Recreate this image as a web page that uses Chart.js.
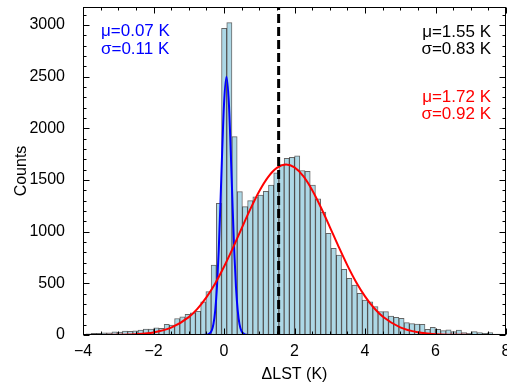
<!DOCTYPE html>
<html>
<head>
<meta charset="utf-8">
<script src="https://cdn.jsdelivr.net/npm/chart.js@4.4.1/dist/chart.umd.min.js"></script>
<style>
  html, body { margin: 0; padding: 0; background: #fff; }
  #wrap { width: 507px; height: 385px; }
</style>
</head>
<body>
<div id="wrap"><canvas id="grafico" width="507" height="385"></canvas></div>
<script>
// Histograma de ΔLST (conteos por intervalo)
const binStart = -3.918;
const binWidth = 0.148;
const counts = [
  12, 15, 15, 20, 22, 30, 28, 38, 35, 40,
  48, 58, 58, 70, 65, 103, 95, 160, 177, 200,
  215, 230, 320, 420, 677, 1274, 2968, 3023, 1919, 1387,
  1242, 1300, 1338, 1355, 1390, 1450, 1570, 1650, 1710, 1719,
  1735, 1592, 1583, 1450, 1318, 1190, 984, 839, 774, 636,
  548, 484, 403, 339, 322, 274, 226, 226, 184, 171,
  161, 119, 110, 105, 103, 55, 74, 55, 42, 51,
  32, 48, 23, 16, 32, 23, 16, 23, 10, 10
];

// Curvas ajustadas
const blueX = [-4, -0.6, -0.45, -0.35, -0.3, -0.25, -0.2, -0.15, -0.1, -0.05, 0, 0.07, 0.14, 0.19, 0.24, 0.29, 0.34, 0.39, 0.44, 0.49, 0.59, 0.7, 8];
const blueY = [0, 0, 5, 42, 105, 234, 463, 816, 1282, 1792, 2232, 2500, 2232, 1792, 1282, 816, 463, 234, 105, 42, 5, 0, 0];

const redX = [-4, -3, -2.5, -2, -1.5, -1, -0.75, -0.5, -0.25, 0, 0.25, 0.5, 0.75, 1, 1.25, 1.5, 1.76, 2, 2.25, 2.5, 2.75, 3, 3.25, 3.5, 3.75, 4, 4.25, 4.5, 5, 5.5, 6, 7, 8];
const redY = [0, 2, 8, 25, 71, 173, 256, 364, 499, 660, 840, 1032, 1220, 1391, 1528, 1617, 1650, 1622, 1537, 1403, 1234, 1047, 856, 674, 511, 374, 264, 179, 74, 26, 8, 1, 0];

// Media (línea discontinua)
const meanValue = 1.55;

// Ejes
const xMin = -4, xMax = 8;
const yMin = 0, yMax = 3174;
const xTicks = [-4, -2, 0, 2, 4, 6, 8];
const yTicks = [0, 500, 1000, 1500, 2000, 2500, 3000];
const xMinorStep = 0.5;
const yMinorStep = 100;

// Textos
const blueNotes = ['μ=0.07 K', 'σ=0.11 K'];
const blackNotes = ['μ=1.55 K', 'σ=0.83 K'];
const redNotes = ['μ=1.72 K', 'σ=0.92 K'];

const FONT = "'Liberation Sans', Arial, Helvetica, sans-serif";

const binCenters = counts.map((_, i) => +(binStart + binWidth * (i + 0.5)).toFixed(4));
const barData = counts.map((c, i) => ({ x: binCenters[i], y: c }));
const blueData = blueX.map((v, i) => ({ x: v, y: blueY[i] }));
const redData = redX.map((v, i) => ({ x: v, y: redY[i] }));
const meanData = [{ x: meanValue, y: yMin }, { x: meanValue, y: yMax }];

// Marco, marcas hacia dentro y textos
const marcoPlugin = {
  id: 'marco',
  afterDraw(chart) {
    const { ctx, chartArea: a, scales: { x, y } } = chart;
    ctx.save();
    ctx.strokeStyle = '#000';
    ctx.lineWidth = 1;
    const L = Math.round(a.left) + 0.5, R = Math.round(a.right) - 0.5;
    const T = Math.round(a.top) + 0.5, B = Math.round(a.bottom) - 0.5;
    ctx.strokeRect(L, T, R - L, B - T);

    ctx.beginPath();
    for (let v = xMin; v <= xMax + 1e-9; v += xMinorStep) {
      const px = Math.round(x.getPixelForValue(v)) + 0.5;
      const len = xTicks.includes(v) ? 6 : 3;
      ctx.moveTo(px, B); ctx.lineTo(px, B - len);
      ctx.moveTo(px, T); ctx.lineTo(px, T + len);
    }
    for (let v = yMin; v <= yMax + 1e-9; v += yMinorStep) {
      const py = Math.round(y.getPixelForValue(v)) + 0.5;
      const len = yTicks.includes(v) ? 6 : 3;
      ctx.moveTo(L, py); ctx.lineTo(L + len, py);
      ctx.moveTo(R, py); ctx.lineTo(R - len, py);
    }
    ctx.stroke();

    ctx.font = '17px ' + FONT;
    ctx.textBaseline = 'alphabetic';
    ctx.fillStyle = '#0000ff';
    ctx.textAlign = 'left';
    ctx.fillText(blueNotes[0], 101, 36);
    ctx.fillText(blueNotes[1], 101, 54);
    ctx.textAlign = 'right';
    ctx.fillStyle = '#000';
    ctx.fillText(blackNotes[0], 491, 37);
    ctx.fillText(blackNotes[1], 491, 54);
    ctx.fillStyle = '#ff0000';
    ctx.fillText(redNotes[0], 491, 102);
    ctx.fillText(redNotes[1], 491, 119);
    ctx.restore();
  }
};

new Chart(document.getElementById('grafico').getContext('2d'), {
  type: 'bar',
  data: {
    datasets: [
      {
        type: 'line',
        data: meanData,
        borderColor: '#000',
        borderWidth: 3,
        borderDash: [9, 4],
        pointRadius: 0,
        order: 1
      },
      {
        type: 'line',
        data: redData,
        borderColor: '#ff0000',
        borderWidth: 2,
        pointRadius: 0,
        cubicInterpolationMode: 'monotone',
        order: 2
      },
      {
        type: 'line',
        data: blueData,
        borderColor: '#0000ff',
        borderWidth: 2,
        pointRadius: 0,
        cubicInterpolationMode: 'monotone',
        order: 3
      },
      {
        type: 'bar',
        data: barData,
        backgroundColor: '#add8e6',
        borderColor: 'rgba(0,0,0,0.6)',
        borderWidth: 1,
        barPercentage: 1,
        categoryPercentage: 1,
        order: 4
      }
    ]
  },
  options: {
    responsive: false,
    devicePixelRatio: 1,
    animation: false,
    layout: { padding: { top: 7, right: 1, left: 0, bottom: 0 } },
    plugins: {
      legend: { display: false },
      tooltip: { enabled: false }
    },
    scales: {
      x: {
        type: 'linear',
        min: xMin,
        max: xMax,
        offset: false,
        grid: { display: false },
        border: { display: false },
        afterBuildTicks: s => { s.ticks = xTicks.map(v => ({ value: v })); },
        afterFit: s => { s.height = 50; s.paddingLeft = 0; s.paddingRight = 0; },
        ticks: {
          color: '#000',
          font: { family: FONT, size: 16 },
          padding: -1,
          maxRotation: 0,
          autoSkip: false,
          callback: v => (v < 0 ? '\u2212' + Math.abs(v) : String(v))
        },
        title: {
          display: true,
          text: 'ΔLST (K)',
          color: '#000',
          font: { family: FONT, size: 16 },
          padding: { top: 0, bottom: 1 }
        }
      },
      y: {
        min: yMin,
        max: yMax,
        grid: { display: false },
        border: { display: false },
        afterBuildTicks: s => { s.ticks = yTicks.map(v => ({ value: v })); },
        afterFit: s => { s.width = 83; s.paddingTop = 0; s.paddingBottom = 0; },
        ticks: {
          color: '#000',
          font: { family: FONT, size: 16 },
          padding: 10,
          callback: v => String(v)
        },
        title: {
          display: true,
          text: 'Counts',
          color: '#000',
          font: { family: FONT, size: 16 },
          padding: { top: 12, bottom: 0 }
        }
      }
    }
  },
  plugins: [marcoPlugin]
});
</script>
</body>
</html>
